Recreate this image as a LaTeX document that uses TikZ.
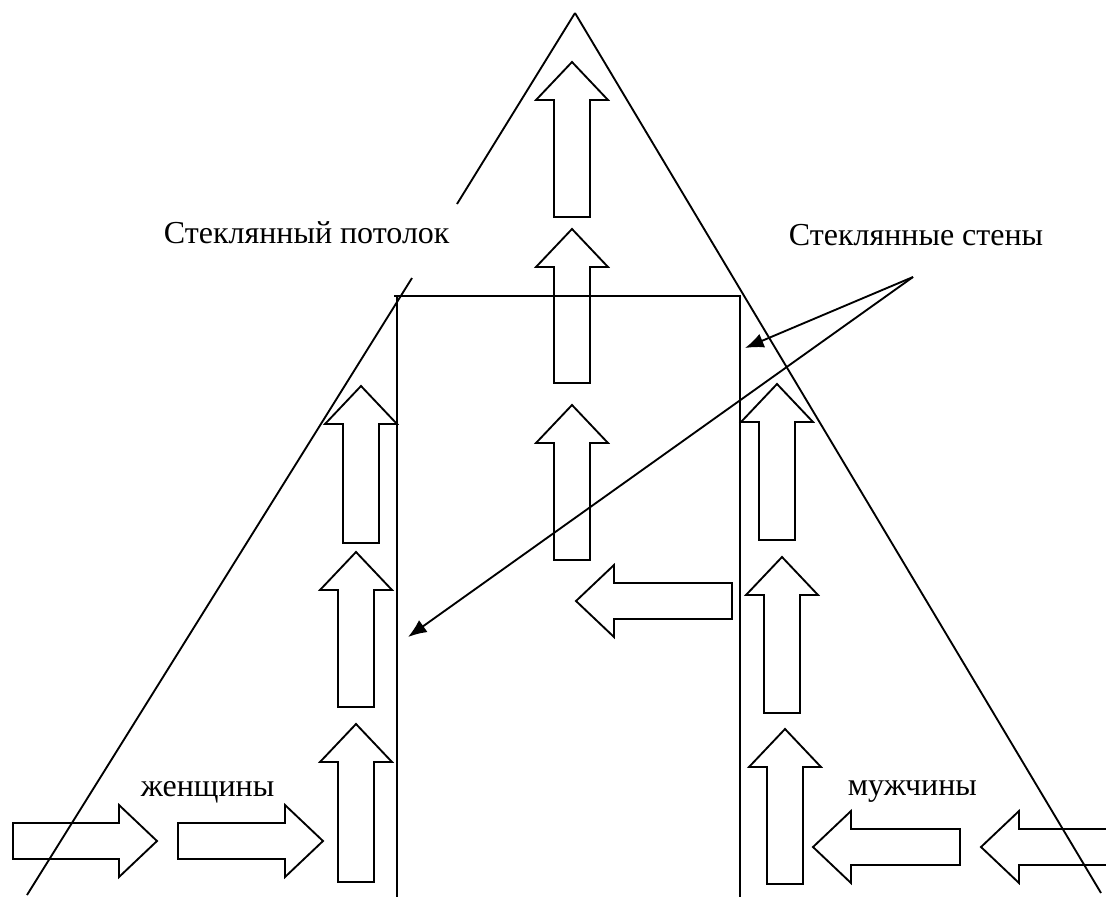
\documentclass[tikz,border=0pt]{standalone}
\usepackage{fontspec}
\setmainfont{Liberation Serif}
\usetikzlibrary{arrows.meta}

\begin{document}
\begin{tikzpicture}[
x=0.75pt, y=-0.75pt,
line width=1.4pt,
mylabel/.style={
  anchor=base west,
  inner sep=0pt,
  font=\fontsize{24}{28}\selectfont
},
blockarrow/.pic={
  \draw[line join=miter] (0,0) -- (36,38) -- (18,38) -- (18,#1)
    -- (-18,#1) -- (-18,38) -- (-36,38) -- cycle;
},
>={Latex[length=14pt,width=11pt]}
]

\clip (0,0) rectangle (1106,897);

% pyramid
\coordinate (apex) at (575,13);
\draw (apex) -- (457,204);
\draw (412,278) -- (27,895);
\draw (apex) -- (1101,893);

% glass walls and ceiling
\draw (394,296) -- (741,296);
\draw (397,296) -- (397,897);
\draw (740,296) -- (740,897);

% arrows in the middle
\pic at (572,62) {blockarrow=155};
\pic at (572,229) {blockarrow=154};
\pic at (572,405) {blockarrow=155};
\pic[rotate=90] at (576,601) {blockarrow=156};

% left column
\pic at (361,386) {blockarrow=157};
\pic at (356,552) {blockarrow=155};
\pic at (356,724) {blockarrow=158};

% right column
\pic at (777,384) {blockarrow=156};
\pic at (782,557) {blockarrow=156};
\pic at (785,729) {blockarrow=155};

% coming in from the sides
\pic[rotate=-90] at (157,841) {blockarrow=144};
\pic[rotate=-90] at (323,841) {blockarrow=145};
\pic[rotate=90] at (813,847) {blockarrow=147};
\pic[rotate=90] at (981,847) {blockarrow=160};

% labels
\node[mylabel] (ceiling) at (163,243) {Стеклянный потолок};
\node[mylabel] (walls) at (788,245) {Стеклянные стены};
\node[mylabel] (women) at (140,796) {женщины};
\node[mylabel] (men) at (847,795) {мужчины};

\coordinate (src) at (913,277);
\coordinate (rwall) at (745,348);
\coordinate (lwall) at (408,637);
\draw[->] (src) -- (rwall);
\draw[->] (src) -- (lwall);
\end{tikzpicture}
\end{document}
